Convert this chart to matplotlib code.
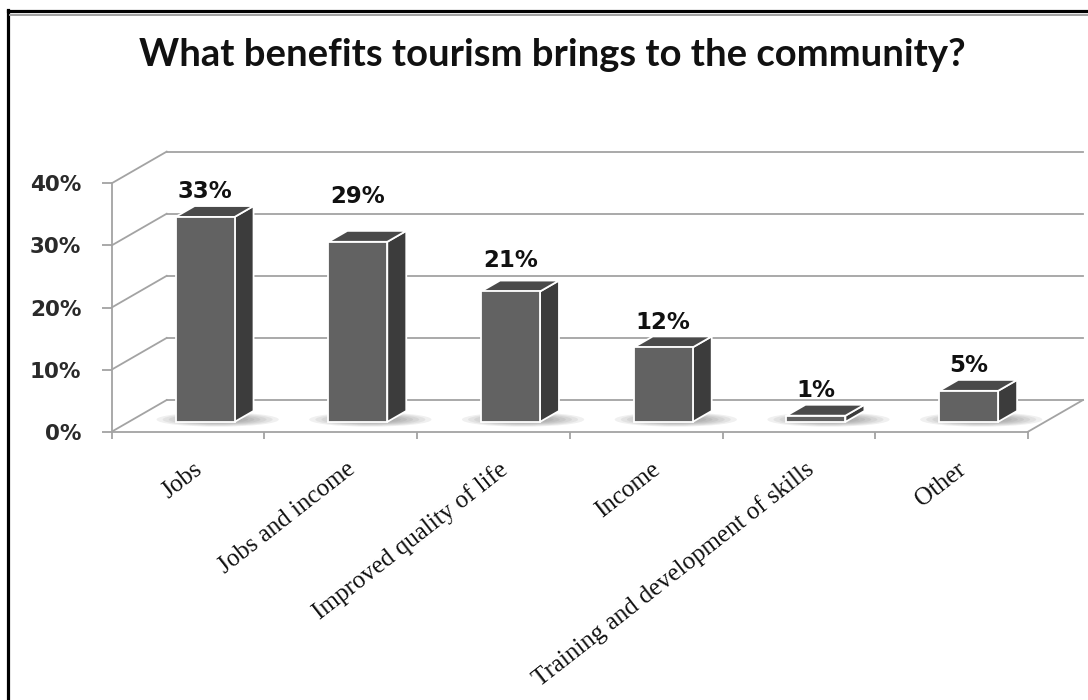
import matplotlib
matplotlib.use("Agg")
import matplotlib.pyplot as plt
import matplotlib.transforms as mtransforms
from matplotlib.patches import Polygon, Ellipse
from matplotlib.lines import Line2D

# ---- data -------------------------------------------------------------
categories = ["Jobs", "Jobs and income", "Improved quality of life", "Income",
              "Training and development of skills", "Other"]
shares = [33, 29, 21, 12, 1, 5]
y_ticks = [0, 10, 20, 30, 40]
y_tick_labels = ["0%", "10%", "20%", "30%", "40%"]
title = "What benefits tourism brings to the community?"

# ---- 3-D look parameters ---------------------------------------------
DEPTH_X = 0.36      # depth offset along x (category units)
DEPTH_Y = 5.1       # depth offset along y (percent units)
BAR_W = 0.386       # bar width (category units)
T_FRONT = 0.31      # bar front face position inside depth (0..1)
T_BACK = 0.655      # bar back face position inside depth (0..1)
label_nudge_px = [0, 20, 6, 0, 0, 0]

GRID = "#a3a3a3"
FRONT = "#626262"
TOP = "#4a4a4a"
SIDE = "#3c3c3c"

W, H = 1088, 700
fig = plt.figure(figsize=(W / 100, H / 100), dpi=100)
fig.patch.set_facecolor("white")

ax = fig.add_axes([111.7 / W, (H - 431.7) / H, (1028 - 111.7) / W, (431.7 - 183.3) / H])
n = len(categories)
ax.set_xlim(0, n)
ax.set_ylim(0, 40)
ax.set_facecolor("none")


def proj(x, y, t):
    return x + t * DEPTH_X, y + t * DEPTH_Y


# back wall gridlines and side wall diagonals
for v in y_ticks:
    x0, y0 = proj(0, v, 1)
    x1, y1 = proj(n, v, 1)
    ax.plot([x0, x1], [y0, y1], color=GRID, lw=1.3, clip_on=False, zorder=1)
    ax.plot([0, x0], [v, y0], color=GRID, lw=1.3, clip_on=False, zorder=1)
# right edge of the floor
xr, yr = proj(n, 0, 1)
ax.plot([n, xr], [0, yr], color=GRID, lw=1.3, clip_on=False, zorder=1)

for side in ("top", "right"):
    ax.spines[side].set_visible(False)
for side in ("left", "bottom"):
    ax.spines[side].set_color(GRID)
    ax.spines[side].set_linewidth(1.3)

# bars
centers = [i + 0.5 for i in range(n)]
front_x = [c + T_FRONT * DEPTH_X for c in centers]
base = T_FRONT * DEPTH_Y
dxb = (T_BACK - T_FRONT) * DEPTH_X
dyb = (T_BACK - T_FRONT) * DEPTH_Y

# soft floor shadows
for fx in front_x:
    cx = fx + dxb / 2 + 0.02
    cy = base + dyb / 2 - 0.5
    for k in range(7):
        s = 1.0 - k * 0.1
        ax.add_patch(Ellipse((cx, cy), width=0.8 * s, height=2.3 * s,
                             facecolor="#5a5a5a", edgecolor="none", alpha=0.09,
                             clip_on=False, zorder=2))

ax.bar(front_x, shares, width=BAR_W, bottom=base, color=FRONT,
       edgecolor="white", linewidth=1.3, zorder=5, clip_on=False)

for fx, v in zip(front_x, shares):
    xl, xr_ = fx - BAR_W / 2, fx + BAR_W / 2
    top_y = base + v
    top = [(xl, top_y), (xr_, top_y), (xr_ + dxb, top_y + dyb), (xl + dxb, top_y + dyb)]
    side = [(xr_, base), (xr_, top_y), (xr_ + dxb, top_y + dyb), (xr_ + dxb, base + dyb)]
    ax.add_patch(Polygon(side, closed=True, facecolor=SIDE, edgecolor="white",
                         lw=1.3, joinstyle="round", clip_on=False, zorder=4))
    ax.add_patch(Polygon(top, closed=True, facecolor=TOP, edgecolor="white",
                         lw=1.3, joinstyle="round", clip_on=False, zorder=4))

# value labels
for fx, v, nud in zip(front_x, shares, label_nudge_px):
    ax.annotate(f"{v}%", xy=(fx, base + v), xytext=(0, 25 + nud),
                textcoords="offset pixels", ha="center", va="center",
                fontsize=16.5, fontweight="bold", color="#111111",
                fontfamily="DejaVu Sans", zorder=6, annotation_clip=False)

# y axis
ax.set_yticks(y_ticks, y_tick_labels)
ax.tick_params(axis="y", length=7, width=1.3, color=GRID, pad=15,
               labelsize=15.5, labelcolor="#2a2a2a")
for lbl in ax.get_yticklabels():
    lbl.set_fontweight("bold")
    lbl.set_fontfamily("DejaVu Sans")

# x axis: boundary ticks plus rotated category labels
ax.set_xticks(range(n + 1), minor=True)
ax.set_xticks(centers, categories)
ax.tick_params(axis="x", which="minor", length=5, width=1.3, color=GRID)
ax.tick_params(axis="x", which="major", length=0, pad=19)
shift = mtransforms.ScaledTranslation(5 / 100, 0, fig.dpi_scale_trans)
for lbl in ax.get_xticklabels():
    lbl.set_rotation(38)
    lbl.set_ha("right")
    lbl.set_va("top")
    lbl.set_rotation_mode("anchor")
    lbl.set_fontfamily("Liberation Serif")
    lbl.set_fontsize(18)
    lbl.set_color("#111111")
    lbl.set_transform(lbl.get_transform() + shift)

# title
fig.text(552 / W, 1 - 66 / H, title, ha="center", va="baseline",
         fontfamily="Lato", fontweight="bold", fontsize=27.5, color="#111111")

# frame
fig.add_artist(Line2D([8 / W, 1], [1 - 10.5 / H] * 2, color="black", lw=2.3))
fig.add_artist(Line2D([8 / W] * 2, [0, 1 - 9.5 / H], color="black", lw=2.3))
fig.add_artist(Line2D([10 / W, 1], [1 - 14.5 / H] * 2, color="#a0a0a0", lw=1.4))

fig.savefig("out.png", dpi=100)
